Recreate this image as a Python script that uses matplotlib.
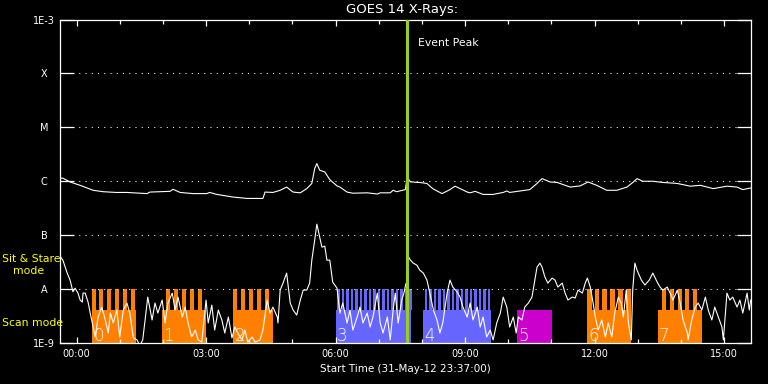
import matplotlib
matplotlib.use("Agg")
import matplotlib.pyplot as plt
from matplotlib.ticker import FixedLocator, NullLocator, FixedFormatter

# ---------------- data ----------------
# time axis: minutes after 00:00 (1-Jun-2012); plot starts 31-May-12 23:37:00
x_range = [-23, 937]
xtick_min = [0, 180, 360, 540, 720, 900]
xtick_labels = ["00:00", "03:00", "06:00", "09:00", "12:00", "15:00"]
xminor_min = [60, 120, 240, 300, 420, 480, 600, 660, 780, 840]
ytick_vals = [1e-9, 1e-8, 1e-7, 1e-6, 1e-5, 1e-4, 1e-3]
ytick_labels = ["1E-9", "A", "B", "C", "M", "X", "1E-3"]
grid_vals = [1e-8, 1e-7, 1e-6, 1e-5, 1e-4]

# GOES 14 long channel (1-8 A), units of 1e-6 W/m^2
long_t = [-23, -19, -9, 5, 23, 37, 55, 70, 98, 102, 130, 134, 144, 162, 181, 185,
          195, 217, 237, 259, 262, 273, 283, 292, 301, 311, 320, 327, 331, 334,
          338, 345, 352, 362, 366, 376, 384, 404, 418, 422, 436, 440, 445, 457,
          459, 461, 464, 468, 473, 477, 487, 495, 508, 519, 526, 536, 543, 547,
          554, 565, 579, 593, 598, 602, 630, 640, 647, 658, 668, 676, 686, 700,
          711, 723, 737, 751, 765, 774, 779, 787, 801, 815, 835, 853, 867, 885,
          904, 918, 926, 937]
long_f = [1.14, 1.14, 0.97, 0.84, 0.68, 0.64, 0.62, 0.62, 0.59, 0.63, 0.65, 0.71,
          0.62, 0.59, 0.59, 0.62, 0.57, 0.51, 0.48, 0.48, 0.63, 0.62, 0.68, 0.78,
          0.63, 0.61, 0.73, 0.91, 1.72, 2.13, 1.60, 1.49, 1.07, 0.82, 0.78, 0.63,
          0.60, 0.61, 0.58, 0.61, 0.61, 0.68, 0.64, 0.70, 1.07, 1.12, 0.97, 0.97,
          0.95, 0.95, 0.91, 0.73, 0.59, 0.70, 0.81, 0.70, 0.63, 0.61, 0.65, 0.57,
          0.57, 0.62, 0.66, 0.62, 0.70, 0.91, 1.12, 0.97, 0.95, 0.87, 0.78, 0.82,
          0.97, 0.84, 0.68, 0.68, 0.78, 0.97, 1.12, 1.00, 1.00, 0.95, 0.91, 0.81,
          0.84, 0.73, 0.81, 0.78, 0.70, 0.75]

# GOES 14 short channel (0.5-4 A), units of 1e-9 W/m^2
short_t = [-23, -19, -13, -9, -5, -2, 2, 5, 8, 9, 12, 15, 16, 19, 23, 26, 30, 35,
           40, 44, 47, 51, 56, 60, 65, 70, 74, 79, 84, 88, 92, 98, 99, 105, 109,
           113, 119, 123, 127, 133, 137, 141, 147, 151, 155, 160, 165, 169, 174,
           180, 183, 188, 192, 197, 202, 206, 211, 216, 220, 224, 230, 234, 238,
           244, 248, 255, 259, 265, 269, 273, 279, 280, 283, 287, 292, 297, 301,
           306, 311, 315, 320, 324, 327, 331, 334, 338, 341, 345, 348, 352, 356,
           362, 365, 366, 370, 376, 380, 384, 390, 394, 398, 404, 408, 412, 418,
           422, 426, 432, 436, 440, 443, 447, 452, 455, 458, 459, 460, 464, 468,
           473, 477, 482, 487, 491, 496, 501, 505, 509, 515, 519, 523, 529, 533,
           537, 543, 547, 551, 557, 561, 565, 570, 575, 579, 584, 589, 593, 598,
           602, 607, 611, 614, 619, 623, 628, 633, 637, 640, 644, 647, 651, 655,
           661, 665, 669, 675, 679, 683, 689, 693, 697, 703, 707, 710, 714, 718,
           721, 725, 730, 735, 739, 744, 748, 753, 757, 760, 764, 767, 771, 773,
           776, 779, 785, 790, 796, 801, 807, 811, 815, 821, 825, 829, 835, 839,
           843, 849, 850, 855, 860, 864, 869, 874, 878, 883, 887, 892, 897, 899,
           904, 908, 912, 918, 922, 926, 932, 935, 937]
short_f = [40.8, 34.4, 19.8, 14.7, 8.9, 10.4, 8.43, 6.26, 5.74, 8.43, 8.43, 6.26,
           5.74, 3.59, 1.98, 1.29, 3.03, 4.64, 2.67, 1.53, 3.59, 2.35, 4.08, 1.29,
           4.08, 5.51, 3.59, 1.24, 1.14, 0.9, 1.14, 5.51, 7.11, 2.67, 5.51, 3.59,
           6.26, 2.35, 5.51, 8.43, 4.08, 7.11, 3.03, 4.64, 2.35, 1.29, 1.74, 1.14,
           1.04, 6.26, 2.35, 5.05, 1.74, 4.08, 2.67, 1.53, 3.03, 1.24, 1.98, 1.53,
           1.14, 1.74, 1.04, 1.29, 1.04, 1.14, 1.74, 6.26, 3.59, 4.64, 3.03, 2.35,
           9.58, 12.9, 19.8, 5.51, 4.08, 3.30, 6.26, 9.58, 9.58, 12.9, 34.4, 80.7,
           160.0, 91.8, 60.0, 62.6, 34.4, 34.4, 13.5, 10.4, 4.64, 3.59, 5.51, 2.35,
           4.08, 1.74, 3.03, 4.64, 2.35, 3.59, 1.98, 3.03, 8.43, 2.35, 1.53, 3.03,
           1.14, 4.08, 8.43, 2.35, 6.26, 8.43, 12.9, 12.9, 42.6, 34.4, 30.3, 27.8,
           22.5, 19.8, 14.7, 8.43, 4.08, 2.67, 1.53, 2.35, 8.43, 14.7, 10.9, 8.8,
           7.11, 4.64, 3.03, 5.51, 2.67, 4.64, 1.98, 3.03, 1.29, 1.74, 1.14, 2.35,
           3.59, 7.11, 4.64, 1.98, 3.03, 1.53, 3.03, 2.67, 4.64, 5.51, 7.11, 14.7,
           25.5, 30.3, 25.5, 16.7, 12.9, 16.0, 14.7, 10.9, 12.9, 8.43, 6.26, 7.11,
           6.81, 9.58, 8.43, 12.9, 16.0, 10.9, 5.51, 3.03, 1.74, 2.67, 1.29, 2.35,
           1.29, 3.59, 7.11, 5.51, 3.03, 9.58, 2.35, 1.14, 9.58, 30.3, 22.5, 14.7,
           11.9, 14.7, 19.8, 13.5, 10.9, 9.58, 10.9, 8.43, 6.26, 9.58, 5.51, 2.67,
           1.53, 1.14, 2.67, 4.64, 5.51, 4.08, 7.11, 4.08, 2.67, 4.64, 3.03, 1.98,
           1.14, 8.43, 6.26, 7.11, 4.64, 6.26, 3.59, 8.43, 4.08, 6.26]

event_peak_t = 459

# observing-mode raster blocks (minutes)
blk_label = ["0", "1", "2", "3", "4", "5", "6", "7"]
blk_start = [21.5, 118.8, 218.0, 360.7, 481.2, 612.6, 709.9, 808.1]
blk_end = [82.7, 179.5, 272.7, 464.9, 576.0, 660.4, 770.2, 869.3]
blk_color = ["#ff8000", "#ff8000", "#ff8000", "#6666ff", "#6666ff", "#cc00cc",
             "#ff8000", "#ff8000"]
blk_tooth_w = [5.6, 5.6, 5.6, 3.4, 3.4, 0.0, 6.3, 5.6]
blk_teeth = [
    [21.5, 31.7, 42.8, 53.9, 65.0, 76.2],
    [124.4, 135.5, 146.6, 157.7, 168.9],
    [218.0, 229.0, 240.2, 251.3, 261.5],
    [362.5, 368.8, 375.0, 381.3, 387.5, 393.8, 400.0, 406.3, 412.5, 418.8, 425.0,
     431.3, 437.5, 443.8, 450.0, 456.3, 462.5],
    [484.3, 490.5, 496.8, 503.0, 509.3, 515.5, 521.8, 528.0, 534.3, 540.5, 546.8,
     553.0, 559.3, 565.5, 571.8],
    [],
    [709.9, 720.2, 730.4, 741.5, 752.6, 763.7],
    [814.2, 824.8, 835.9, 846.1, 856.3],
]
scan_level = 4.1e-9     # top of "Scan mode" band
stare_level = 1e-8      # top of "Sit & Stare" band
y_floor = 1e-9

# ---------------- figure ----------------
W, H = 768, 384
fig = plt.figure(figsize=(W / 100, H / 100), dpi=100, facecolor="black")
ax = fig.add_axes([60 / W, 1 - 343 / H, 690.7 / W, 323.5 / H], facecolor="black")
ax.set_yscale("log")
ax.set_xlim(*x_range)
ax.set_ylim(1e-9, 1e-3)

# blocks
for lab, s, e, c, tw, teeth in zip(blk_label, blk_start, blk_end, blk_color,
                                   blk_tooth_w, blk_teeth):
    ax.bar(s, scan_level - y_floor, width=e - s, bottom=y_floor, align="edge",
           color=c, linewidth=0, zorder=1)
    for t in teeth:
        ax.bar(t, stare_level - scan_level, width=tw, bottom=scan_level,
               align="edge", color=c, linewidth=0, zorder=1)

# dotted grid
for g in grid_vals:
    ax.axhline(g, color="white", lw=0.75, linestyle=(0, (1, 5)), zorder=1.5)

# curves
ax.plot(long_t, [v * 1e-6 for v in long_f], color="white", lw=0.8, zorder=3)
ax.plot(short_t, [v * 1e-9 for v in short_f], color="white", lw=0.8, zorder=3)

# block numbers
for lab, s in zip(blk_label, blk_start):
    ax.annotate(lab, (s, y_floor), xytext=(1, 2), textcoords="offset pixels",
                color="white", fontsize=12, ha="left", va="baseline", zorder=4,
                fontweight="light")

# event peak line
ax.axvline(event_peak_t, color="#9acd1e", lw=2.2, zorder=5)

# axes styling
for sp in ax.spines.values():
    sp.set_color("white")
    sp.set_linewidth(0.9)
ax.xaxis.set_major_locator(FixedLocator(xtick_min))
ax.xaxis.set_major_formatter(FixedFormatter(xtick_labels))
ax.xaxis.set_minor_locator(FixedLocator(xminor_min))
ax.yaxis.set_major_locator(FixedLocator(ytick_vals))
ax.yaxis.set_major_formatter(FixedFormatter(ytick_labels))
ax.yaxis.set_minor_locator(NullLocator())
ax.tick_params(axis="x", which="major", direction="in", length=4.5, width=0.9,
               color="white", top=True, bottom=True, labelcolor="white",
               labelsize=7, pad=4.5)
ax.tick_params(axis="x", which="minor", direction="in", length=2.6, width=0.9,
               color="white", top=True, bottom=True)
ax.tick_params(axis="y", which="major", direction="in", length=10, width=0.9,
               color="white", left=True, right=True, labelcolor="white",
               labelsize=7, pad=11.5)
for lbl in ax.get_yticklabels():
    lbl.set_horizontalalignment("center")

# texts
fig.text(402.5 / W, 1 - 10 / H, "GOES 14 X-Rays:", color="white", fontsize=9.5,
         ha="center", va="center")
fig.text(405 / W, 1 - 368.5 / H, "Start Time (31-May-12 23:37:00)", color="white",
         fontsize=7.5, ha="center", va="center")
fig.text(418 / W, 1 - 42.5 / H, "Event Peak", color="white", fontsize=7.8,
         ha="left", va="center")
fig.text(2 / W, 1 - 259 / H, "Sit & Stare", color="#ffff00", fontsize=7.8,
         ha="left", va="center")
fig.text(13 / W, 1 - 271 / H, "mode", color="#ffff00", fontsize=7.8,
         ha="left", va="center")
fig.text(2 / W, 1 - 323.3 / H, "Scan mode", color="#ffff00", fontsize=7.8,
         ha="left", va="center")

fig.savefig("out.png", dpi=100, facecolor="black")
